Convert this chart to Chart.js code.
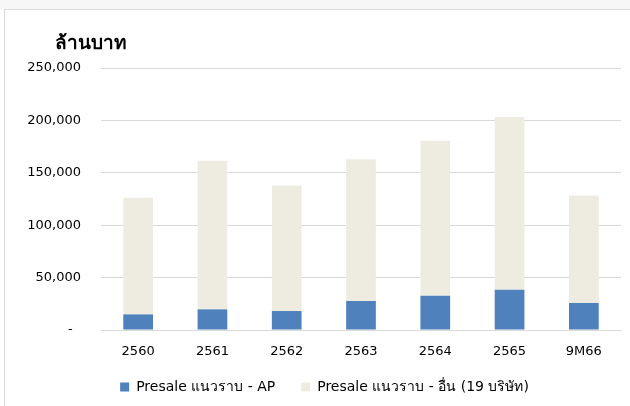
<!DOCTYPE html>
<html>
<head>
<meta charset="utf-8">
<script src="https://cdn.jsdelivr.net/npm/chart.js@4/dist/chart.umd.min.js"></script>
<style>
  html, body { margin: 0; padding: 0; background: #fff; }
  #top { position: absolute; left: 0; top: 0; width: 630px; height: 9px; background: #f7f7f7; }
  #frame { position: absolute; left: 4px; top: 9px; width: 640px; height: 420px;
           border-left: 1px solid #d9d9d9; border-top: 1px solid #d9d9d9; }
  #wrap { position: absolute; left: 0; top: 0; width: 630px; height: 406px; }
</style>
</head>
<body>
<div id="top"></div>
<div id="frame"></div>
<div id="wrap"><canvas id="chart"></canvas></div>
<script>
var years = ['2560', '2561', '2562', '2563', '2564', '2565', '9M66'];
var apValues = [14900, 19700, 18100, 27700, 32700, 38500, 25800];
var otherValues = [111300, 141800, 119900, 135300, 147900, 164700, 102600];
var yTicks = [0, 50000, 100000, 150000, 200000, 250000];

var unitTitle = 'ล้านบาท';
var font = 'DejaVu Sans';

// title in the top left corner
var titlePlugin = {
    id: 'unitTitle',
    afterDraw: function (chart) {
        var ctx = chart.ctx;
        ctx.save();
        ctx.font = 'bold 19px "' + font + '"';
        ctx.fillStyle = '#000';
        ctx.textBaseline = 'middle';
        ctx.textAlign = 'left';
        ctx.fillText(unitTitle, 55, 44);
        ctx.restore();
    }
};

// wide gap between legend items but keep the legend close to the axis
var legendShift = {
    id: 'legendShift',
    afterLayout: function (chart) {
        chart.legend.top -= 16;
        chart.legend.bottom -= 16;
    }
};

new Chart(document.getElementById('chart'), {
    type: 'bar',
    data: {
        labels: years,
        datasets: [{
            label: 'Presale แนวราบ - AP',
            data: apValues,
            backgroundColor: '#4f81bd',
            barPercentage: 0.4,
            categoryPercentage: 1
        }, {
            label: 'Presale แนวราบ - อื่น (19 บริษัท)',
            data: otherValues,
            backgroundColor: '#eeece1',
            barPercentage: 0.4,
            categoryPercentage: 1
        }]
    },
    options: {
        responsive: true,
        maintainAspectRatio: false,
        animation: false,
        layout: { padding: { left: 28, right: 9, top: 68, bottom: -14 } },
        plugins: {
            legend: {
                position: 'bottom',
                labels: {
                    font: { family: font, size: 14 },
                    color: '#000',
                    boxWidth: 9,
                    boxHeight: 9,
                    padding: 26
                }
            },
            tooltip: { enabled: false }
        },
        scales: {
            x: {
                stacked: true,
                grid: { display: false, drawTicks: false },
                border: { color: '#d9d9d9' },
                ticks: { font: { family: font, size: 13 }, color: '#000', padding: 14 },
                afterFit: function (scale) { scale.height = 40; }
            },
            y: {
                stacked: true,
                min: 0,
                max: 250000,
                afterBuildTicks: function (scale) {
                    scale.ticks = yTicks.map(function (v) { return { value: v }; });
                },
                grid: { color: '#d9d9d9', drawTicks: false },
                border: { display: false },
                ticks: {
                    font: { family: font, size: 13 },
                    color: '#000',
                    padding: 20,
                    callback: function (v) {
                        return v === 0 ? '-  ' : v.toLocaleString('en-US');
                    }
                },
                afterFit: function (scale) { scale.width = 73; }
            }
        }
    },
    plugins: [titlePlugin, legendShift]
});
</script>
</body>
</html>
